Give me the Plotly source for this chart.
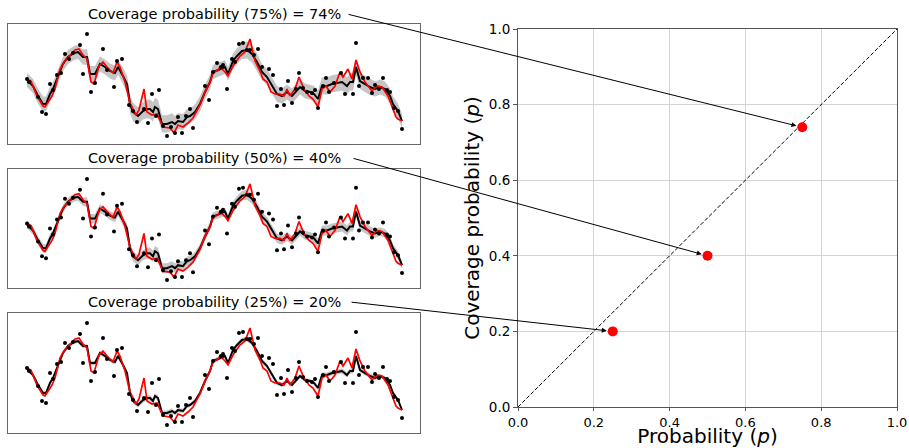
import plotly.graph_objects as go

# ---------------- data ----------------
probs = [0.75, 0.50, 0.25]
coverage = [0.74, 0.40, 0.20]
z_scores = [1.150, 0.674, 0.319]  # half-width multipliers of the central intervals
panel_titles = ["Coverage probability (75%) = 74%",
                "Coverage probability (50%) = 40%",
                "Coverage probability (25%) = 20%"]

truth_t = [0,4,10,16,18,25,28,33,37,43,48,52,56,60,64,67,72,76,80,86,90,93,98,103,109,112,117,120,125,130,
           136,143,147,151,156,161,166,173,178,183,186,191,193,198,201,206,213,218,223,228,233,236,240,244,248,
           253,257,260,263,268,272,277,282,286,291,295,299,303,308,313,316,321,325,329,333,338,345,350,355,361,
           365,369,371,375]
truth_v = [5,3,-12,-22,-23,-12,-5,15,22,28,34,35,29,25,2,0,18,22,17,11,22,17,2,-19,-31,-26,-5,-28,-31,-30,
           -43,-44,-49,-41,-43,-39,-34,-21,-8,2,11,14,17,12,8,18,28,32,45,23,13,5,2,-8,-10,-10,-12,-5,-12,-5,
           7,-5,-12,-15,-23,-5,-2,-8,-2,12,7,15,5,24,12,2,-7,-2,-3,-12,-23,-33,-35,-37]

mean_t = [0,6,11,16,19,23,26,31,36,41,47,51,56,60,63,68,73,78,83,88,91,96,100,103,106,111,116,120,123,126,
          128,131,135,140,145,148,151,156,160,163,168,173,178,183,186,191,193,198,201,206,210,215,220,225,230,
          235,240,245,250,255,260,265,269,273,278,283,287,291,295,300,305,310,315,320,323,326,329,333,338,343,
          348,353,358,363,366,371,375]
mean_v = [4,-2,-12,-20,-20,-10,-5,8,20,27,31,32,27,27,10,10,20,17,13,11,17,8,0,-20,-28,-32,-27,-25,-25,-28,
          -23,-25,-40,-40,-38,-40,-37,-38,-33,-32,-28,-20,-8,2,12,14,15,17,10,23,28,33,34,30,22,12,7,-2,-10,-12,
          -8,-12,-7,-3,-7,-8,-10,-15,-2,-2,0,1,2,-2,2,2,17,3,0,-3,-5,-3,-5,-12,-20,-27,-37]
sigma_v = [6,6,6.5,6.5,6.5,6.5,6,6,6,6,
           6,6,6.5,7,7,7,6.5,6.5,6.5,6.5,
           6.5,7,7.5,8,8,7.5,7.5,8,8.5,8.5,
           8,8,7.5,7.5,7.5,7,7,7,7,6.5,
           6.5,6.5,6.5,6.5,6,6,6,6,6,6.5,
           7,7,7.5,7.5,7.5,7,7,7,7,6.5,
           6.5,6.5,6.5,6.5,6.5,6.5,7,7.5,7.5,7.5,
           7.5,7.5,7.5,7.5,7.5,7.5,7,7,7,7,
           6.5,6.5,6.5,6.5,6.5,6.5,6]

obs_t = [0,2,11,15,19,23,26,30,34,38,42,46,53,56,60,64,68,76,80,87,90,95,102,106,110,117,121,125,129,132,
         136,140,144,148,151,155,159,163,166,178,182,186,190,194,196,200,205,208,212,216,220,223,227,231,235,
         242,246,250,254,257,261,265,269,272,276,280,285,288,291,296,299,302,307,314,318,326,329,332,336,341,
         345,348,352,356,360,363,367,371,375]
obs_v = [5,2,-13,-28,-30,0,-6,9,11,30,25,31,39,10,50,-8,1,35,14,-3,23,25,-21,-27,-38,-25,-39,-10,-32,-6,
         -42,-52,-43,-49,-33,-49,-32,-25,-44,-2,-16,12,21,17,19,-5,25,22,40,41,34,34,29,35,17,15,9,-22,-5,-21,
         3,-19,-5,11,-4,-8,-9,-6,-24,-2,6,-8,1,11,-10,-10,41,-2,6,6,-9,-1,-5,6,-6,-8,-24,-27,-45]

# ---------------- layout constants (pixels) ----------------
W, H = 909, 448
FONT = "DejaVu Sans"
main_px = dict(l=518, r=897, t=29, b=407)
panels_px = [(24, 144), (169, 288), (313, 433)]
panel_x_px = (8, 420)
title_y_px = [14, 158, 302]
arrow_tail_px = [(347, 14), (352, 158), (350, 302)]


def pxx(x):
    return x / W


def pxy(y):
    return (H - y) / H


def to_main(px, py):
    xd = (px - main_px["l"]) / (main_px["r"] - main_px["l"])
    yd = (main_px["b"] - py) / (main_px["b"] - main_px["t"])
    return xd, yd


fig = go.Figure()

# ---------------- left panels ----------------
layout_axes = {}
for i, z in enumerate(z_scores):
    k = i + 2
    xa, ya = f"x{k}", f"y{k}"
    up = [m + z * s for m, s in zip(mean_v, sigma_v)]
    lo = [m - z * s for m, s in zip(mean_v, sigma_v)]
    fig.add_trace(go.Scatter(x=mean_t + mean_t[::-1], y=up + lo[::-1], fill="toself",
                             fillcolor="rgba(140,140,140,0.5)", line=dict(width=0),
                             mode="lines", hoverinfo="skip", showlegend=False,
                             xaxis=xa, yaxis=ya))
    fig.add_trace(go.Scatter(x=mean_t, y=mean_v, mode="lines",
                             line=dict(color="black", width=2), showlegend=False,
                             xaxis=xa, yaxis=ya))
    fig.add_trace(go.Scatter(x=truth_t, y=truth_v, mode="lines",
                             line=dict(color="#ff0000", width=1.7), showlegend=False,
                             xaxis=xa, yaxis=ya))
    fig.add_trace(go.Scatter(x=obs_t, y=obs_v, mode="markers",
                             marker=dict(color="black", size=4), showlegend=False,
                             xaxis=xa, yaxis=ya))
    top, bot = panels_px[i]
    layout_axes[f"xaxis{k}"] = dict(domain=[pxx(panel_x_px[0]), pxx(panel_x_px[1])],
                                    range=[-19, 393], showticklabels=False, ticks="",
                                    showgrid=False, zeroline=False, showline=True, mirror=True,
                                    linecolor="#666", linewidth=1, anchor=ya, automargin=False)
    layout_axes[f"yaxis{k}"] = dict(domain=[pxy(bot), pxy(top)], range=[-60, 60],
                                    showticklabels=False, ticks="", showgrid=False,
                                    zeroline=False, showline=True, mirror=True,
                                    linecolor="#666", linewidth=1, anchor=xa, automargin=False)

# ---------------- main calibration plot ----------------
fig.add_trace(go.Scatter(x=[0, 1], y=[0, 1], mode="lines",
                         line=dict(color="black", width=1, dash="4px,2px"),
                         showlegend=False, xaxis="x", yaxis="y"))
fig.add_trace(go.Scatter(x=probs, y=coverage, mode="markers",
                         marker=dict(color="#ff0000", size=10), showlegend=False,
                         xaxis="x", yaxis="y"))

ticks = [0, 0.2, 0.4, 0.6, 0.8, 1.0]
tick_text = ["0.0", "0.2", "0.4", "0.6", "0.8", "1.0"]

annotations = []
for i in range(3):
    annotations.append(dict(text=panel_titles[i], xref="paper", yref="paper",
                            x=pxx(sum(panel_x_px) / 2), y=pxy(title_y_px[i]),
                            xanchor="center", yanchor="middle", showarrow=False,
                            font=dict(family=FONT, size=14.5, color="black")))
    ax, ay = to_main(*arrow_tail_px[i])
    annotations.append(dict(text="", x=probs[i], y=coverage[i], xref="x", yref="y",
                            ax=ax, ay=ay, axref="x", ayref="y", showarrow=True,
                            arrowhead=2, arrowsize=1, arrowwidth=1, arrowcolor="black",
                            standoff=6))

fig.update_layout(
    width=W, height=H, margin=dict(l=0, r=0, t=0, b=0, autoexpand=False),
    paper_bgcolor="white", plot_bgcolor="white",
    font=dict(family=FONT, color="black"),
    xaxis=dict(domain=[pxx(main_px["l"]), pxx(main_px["r"])], range=[0, 1],
               tickvals=ticks, ticktext=tick_text, tickfont=dict(size=13),
               showgrid=True, gridcolor="#d4d4d4", gridwidth=1, zeroline=False,
               showline=True, mirror=True, linecolor="#555", linewidth=1,
               ticks="outside", ticklen=3, tickcolor="#555", anchor="y", automargin=False,
               title=dict(text="Probability (<i>p</i>)", font=dict(size=20), standoff=6)),
    yaxis=dict(domain=[pxy(main_px["b"]), pxy(main_px["t"])], range=[0, 1],
               tickvals=ticks, ticktext=tick_text, tickfont=dict(size=13.5),
               showgrid=True, gridcolor="#d4d4d4", gridwidth=1, zeroline=False,
               showline=True, mirror=True, linecolor="#555", linewidth=1,
               ticks="outside", ticklen=4, tickcolor="#555", anchor="x", automargin=False,
               title=dict(text="Coverage probability (<i>p</i>)", font=dict(size=20), standoff=3)),
    annotations=annotations,
    **layout_axes,
)

fig.write_html("out.html", config={"displayModeBar": False},
               post_script="document.body.style.margin='0';document.body.style.overflow='hidden';")
